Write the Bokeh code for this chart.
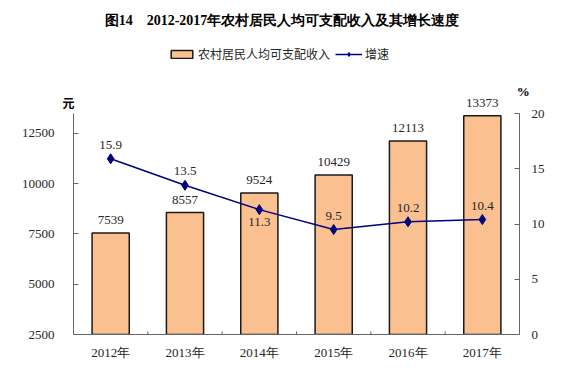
from bokeh.plotting import figure
from bokeh.models import (FactorRange, Range1d, LinearAxis, FixedTicker, ColumnDataSource,
                          LabelSet, Label, Legend, LegendItem)
from bokeh.embed import file_html
from bokeh.resources import INLINE

# ---------------- data ----------------
years = ["2012年", "2013年", "2014年", "2015年", "2016年", "2017年"]
income = [7539, 8557, 9524, 10429, 12113, 13373]
growth = [15.9, 13.5, 11.3, 9.5, 10.2, 10.4]
income_ticks = [2500, 5000, 7500, 10000, 12500]
growth_ticks = [0, 5, 10, 15, 20]
growth_label_side = ["above", "above", "below", "above", "above", "above"]

title_text = "图14\u30002012-2017年农村居民人均可支配收入及其增长速度"
bar_name = "农村居民人均可支配收入"
line_name = "增速"

# ---------------- layout (pixels) ----------------
W, H = 566, 370
FL, FR, FT, FB = 73, 519, 0, 334             # frame; axes lines at left/right/bottom edges
AXT = 113                                     # top end of the vertical axes lines
Y0, Y1 = 2500, 13480                          # income axis extent
P0, P1 = 0, 20                                # growth axis extent

n = len(years)
UNIT = (FR - FL) / n
y_per_px = (Y1 - Y0) / (FB - AXT)
p_per_px = (P1 - P0) / (FB - AXT)
YTOP = Y0 + (FB - FT) * y_per_px
PTOP = P0 + (FB - FT) * p_per_px

SERIF = "Liberation Serif"
CJK = "Noto Sans CJK SC"
TXT = "#262626"
AX = "#666666"


def xd(px):
    return (px - FL) / UNIT


def yd(py):
    return Y0 + (FB - py) * y_per_px


p = figure(width=W, height=H,
           x_range=FactorRange(*years),
           y_range=Range1d(Y0, YTOP),
           output_backend="svg", toolbar_location=None,
           min_border_left=FL, min_border_right=W - FR,
           min_border_top=FT, min_border_bottom=H - FB)
p.extra_y_ranges = {"pct": Range1d(P0, PTOP)}
p.outline_line_color = None
p.xgrid.visible = False
p.ygrid.visible = False
p.background_fill_color = "white"
p.border_fill_color = "white"

src = ColumnDataSource(dict(
    year=years,
    income=income,
    income_txt=[str(v) for v in income],
    growth=growth,
    growth_txt=[f"{v:.1f}" for v in growth],
    goff=[14 if s == "above" else -12 for s in growth_label_side],
))

bars = p.vbar(x="year", top="income", bottom=0, width=0.5, source=src,
              fill_color="#FAC090", line_color="#1a1a1a", line_width=1.5)
ln = p.line(x="year", y="growth", y_range_name="pct", source=src,
            line_color="#000080", line_width=1.5)
pts = p.scatter(x="year", y="growth", y_range_name="pct", source=src, marker="diamond",
                size=10, fill_color="#000080", line_color="#000080")

# bottom axis separator ticks (between categories, pointing inward)
bounds = list(range(1, n))
tick_len = 3 * y_per_px
p.segment(x0=bounds, y0=[Y0] * len(bounds), x1=bounds, y1=[Y0 + tick_len] * len(bounds),
          line_color=AX, line_width=1)

# axes
ya = p.yaxis[0]
ya.ticker = FixedTicker(ticks=income_ticks)
ya.bounds = (Y0, Y1)
ya.major_tick_in = 5
ya.major_tick_out = 0
ya.minor_tick_line_color = None
ya.axis_line_color = AX
ya.major_tick_line_color = AX
ya.major_label_standoff = 19
ya.major_label_text_font = SERIF
ya.major_label_text_font_size = "13px"
ya.major_label_text_color = TXT

yr = LinearAxis(y_range_name="pct", ticker=FixedTicker(ticks=growth_ticks))
yr.bounds = (P0, P1)
yr.major_tick_in = 5
yr.major_tick_out = 0
yr.minor_tick_line_color = None
yr.axis_line_color = AX
yr.major_tick_line_color = AX
yr.major_label_standoff = 12
yr.major_label_text_font = SERIF
yr.major_label_text_font_size = "13px"
yr.major_label_text_color = TXT
p.add_layout(yr, "right")

xa = p.xaxis[0]
xa.major_tick_line_color = None
xa.minor_tick_line_color = None
xa.axis_line_color = AX
xa.major_label_standoff = 4
xa.major_label_text_font = SERIF
xa.major_label_text_font_size = "13px"
xa.major_label_text_color = TXT

# data labels
p.add_layout(LabelSet(x="year", y="income", text="income_txt", source=src, y_offset=13,
                      text_align="center", text_baseline="middle",
                      text_font=SERIF, text_font_size="13px", text_color=TXT))
p.add_layout(LabelSet(x="year", y="growth", text="growth_txt", source=src, y_range_name="pct",
                      y_offset="goff", text_align="center", text_baseline="middle",
                      text_font=SERIF, text_font_size="13px", text_color=TXT))

# legend (frame-relative pixel location)
legend = Legend(items=[LegendItem(label=bar_name, renderers=[bars]),
                       LegendItem(label=line_name, renderers=[ln, pts])],
                location=(168 - FL, FB - 48 - 14), orientation="horizontal",
                padding=0, margin=0, spacing=5,
                glyph_width=27, glyph_height=10, label_height=14, label_standoff=3,
                border_line_color=None, background_fill_alpha=0,
                label_text_font=CJK, label_text_font_size="12px", label_text_color=TXT)
p.add_layout(legend)

# title
p.add_layout(Label(x=xd(281.5), y=yd(19.5), text=title_text, text_align="center",
                   text_baseline="middle", text_font=SERIF, text_font_style="bold",
                   text_font_size="14px", text_color="#000000"))
# unit labels sit beside the frame, in the side panels
p.add_layout(Label(x=xd(68), y=yd(102), text="元", text_align="center",
                   text_baseline="middle", text_font=CJK, text_font_style="bold",
                   text_font_size="12px", text_color="#000000"), "left")
p.add_layout(Label(x=xd(522.7), y=yd(91), text="%", text_align="center",
                   text_baseline="middle", text_font=SERIF, text_font_style="bold",
                   text_font_size="13px", text_color="#000000"), "right")

open("out.html", "w").write(file_html(p, INLINE))
